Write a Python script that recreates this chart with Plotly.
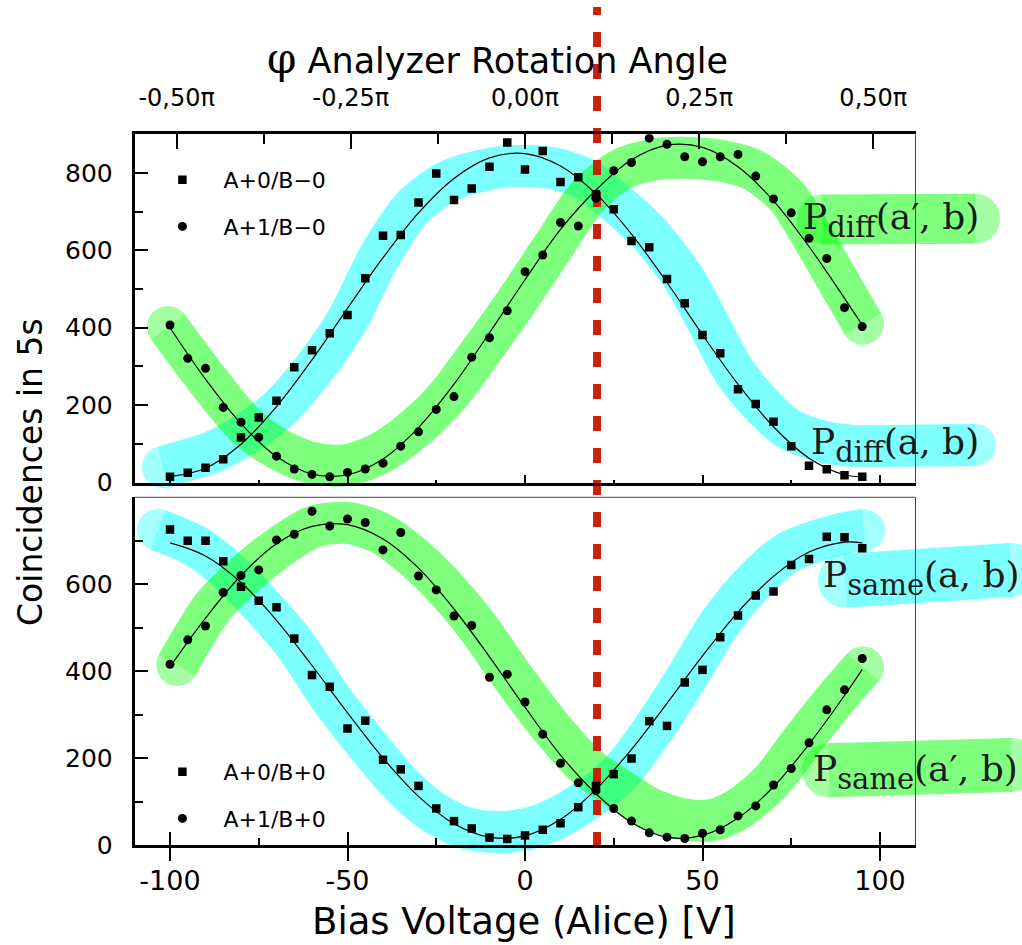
import plotly.graph_objects as go

# ---------------- data ----------------
volt = list(range(-100, 100, 5))  # bias voltage of Alice [V]

top_sq = [15, 25, 38, 60, 116, 168, 211, 298, 342, 386, 433, 528, 638, 640, 724, 799, 730, 760, 816, 879,
          809, 857, 777, 789, 745, 706, 624, 608, 526, 463, 381, 334, 241, 203, 157, 94, 43, 34, 19, 15]
top_ci = [407, 321, 295, 194, 156, 117, 68, 35, 21, 15, 26, 35, 50, 94, 131, 189, 222, 324, 374, 444,
          545, 588, 672, 663, 735, 806, 827, 890, 874, 842, 829, 842, 848, 792, 733, 697, 631, 579, 452, 403]
bot_sq = [726, 700, 700, 653, 594, 562, 547, 475, 391, 364, 268, 286, 196, 174, 136, 84, 55, 38, 17, 14,
          22, 35, 50, 87, 136, 163, 199, 285, 274, 374, 403, 478, 528, 574, 583, 644, 658, 709, 708, 683]
bot_ci = [416, 472, 504, 581, 620, 633, 702, 715, 768, 734, 750, 742, 679, 719, 619, 587, 527, 505, 386, 393,
          329, 255, 188, 143, 125, 84, 55, 28, 18, 15, 27, 35, 67, 90, 138, 176, 235, 311, 357, 429]

fit_v = [-100, -90, -80, -70, -60, -50, -40, -30, -20, -10, 0, 10, 20, 30, 40, 50, 60, 70, 80, 90, 95]
fit_top_sq = [15, 37, 99, 196, 317, 450, 581, 697, 786, 839, 850, 818, 746, 642, 517, 382, 254, 144, 63, 20, 15]
fit_top_ci = [400, 267, 152, 67, 22, 20, 61, 142, 254, 387, 524, 654, 756, 834, 872, 866, 816, 728, 610, 476, 407]
fit_bot_sq = [695, 665, 604, 517, 413, 304, 200, 112, 49, 18, 21, 59, 128, 220, 326, 435, 536, 618, 674, 697, 695]
fit_bot_ci = [410, 522, 620, 693, 733, 737, 704, 637, 543, 433, 317, 207, 118, 52, 18, 22, 62, 134, 232, 344, 404]

phi_ticks = [-0.5, -0.25, 0.0, 0.25, 0.5]
phi_labels = ["-0,50π", "-0,25π", "0,00π", "0,25π", "0,50π"]
v_ticks = [-100, -50, 0, 50, 100]
v_labels = ["-100", "-50", "0", "50", "100"]

# hand-drawn highlight strokes (panel units)
hl_top_cyan_x = [-102, -88, -78.3, -69, -59.7, -50, -40.8, -31.5, -22, -12.7, -3.4, 7.9, 17.5, 26, 34.3, 44.6,
                 51.2, 58.7, 66.2, 74, 83, 92, 105.6, 126.8]
hl_top_cyan_y = [40, 79, 128, 193, 291, 420, 588, 712, 777, 805, 818, 812, 782, 720, 650, 530,
                 420, 291, 205, 140, 108, 95, 95, 97]
hl_top_green_x = [-100.6, -87.9, -78.3, -69, -59.7, -50.1, -40.8, -31.5, -22, -12.7, -3.4, 7.9, 17.5, 26.8, 36,
                  45.6, 54.9, 64.2, 73.8, 80, 87, 95.2]
hl_top_green_y = [402, 247, 143, 84, 50, 45, 76, 136, 221, 335, 454, 609, 738, 808, 834,
                  839, 832, 808, 739, 650, 540, 410]
hl_top_green_lab_x = [83.6, 126.8]
hl_top_green_lab_y = [680, 682]

hl_bot_cyan_x = [-103.4, -92.4, -83.1, -73.8, -64.2, -54.9, -45.6, -36.1, -26.8, -17.5, -7.9, 0, 7.9, 17.5, 26.8,
                 36, 45.6, 54.9, 64.2, 73.8, 83.1, 91.5, 95.5]
hl_bot_cyan_y = [725, 686, 626, 548, 455, 340, 242, 150, 81, 41, 30, 36, 58, 104, 166,
                 265, 386, 511, 603, 672, 702, 720, 724]
hl_bot_cyan_lab_x = [90.1, 137]
hl_bot_cyan_lab_y = [608, 633]
hl_bot_green_x = [-98, -87.9, -78.3, -69, -59.7, -50.1, -40.8, -31.5, -22, -12.7, -3.4, 7.9, 17.5, 26.8, 36,
                  45.6, 53, 59.7, 69, 78.3, 87.9, 95.2]
hl_bot_green_y = [414, 548, 626, 686, 732, 741, 718, 663, 587, 495, 386, 265, 179, 127, 81,
                  58, 58, 81, 143, 242, 340, 409]
hl_bot_green_lab_x = [85.6, 137]
hl_bot_green_lab_y = [172, 184]

red_v = 20.3

# ---------------- geometry ----------------
W, H = 1022, 945
XL, XR = 134.5, 915.5          # plot frame left/right (px) for -110..110 V
YT0, YT1 = 482.5, 134.3        # top panel: value 0 / 900
YB0, YB1 = 845.0, 497.3        # bottom panel: value 0 / 800
ppv = (XR - XL) / 220.0
ppt = (YT0 - YT1) / 900.0
ppb = (YB0 - YB1) / 800.0
cx_range = [-110 - XL / ppv, 110 + (W - XR) / ppv]
cyt_range = [-(H - YT0) / ppt, 900 + YT1 / ppt]
cyb_range = [-(H - YB0) / ppb, 800 + YB1 / ppb]
xdom = [XL / W, XR / W]
ytdom = [(H - YT0) / H, (H - YT1) / H]
ybdom = [(H - YB0) / H, (H - YB1) / H]
phi_px0, phi_ppu = 525.0, 696.6
phi_range = [(XL - phi_px0) / phi_ppu, (XR - phi_px0) / phi_ppu]

CYAN = "rgb(0,255,255)"
GREEN = "rgb(0,255,0)"
SANS = "DejaVu Sans"
SERIF = "DejaVu Serif"

fig = go.Figure()


def stroke(x, y, color, width, yaxis):
    sizes = [width] + [0] * (len(x) - 2) + [width]
    fig.add_trace(go.Scatter(
        x=x, y=y, xaxis="x", yaxis=yaxis, mode="lines+markers",
        line=dict(color=color, width=width, shape="spline", smoothing=0.8),
        marker=dict(size=sizes, color=color, line=dict(width=0)),
        opacity=0.5, showlegend=False, hoverinfo="skip"))


stroke(hl_top_cyan_x, hl_top_cyan_y, CYAN, 42, "y")
stroke(hl_top_green_x, hl_top_green_y, GREEN, 42, "y")
stroke(hl_top_green_lab_x, hl_top_green_lab_y, GREEN, 50, "y")
stroke(hl_bot_cyan_x, hl_bot_cyan_y, CYAN, 42, "y2")
stroke(hl_bot_cyan_lab_x, hl_bot_cyan_lab_y, CYAN, 54, "y2")
stroke(hl_bot_green_x, hl_bot_green_y, GREEN, 42, "y2")
stroke(hl_bot_green_lab_x, hl_bot_green_lab_y, GREEN, 54, "y2")

# red dashed reference line (drawn on the full-page canvas axes)
fig.add_trace(go.Scatter(
    x=[red_v, red_v], y=[-(847 - YB0) / ppb, (YB0 - 7) / ppb], xaxis="x", yaxis="y2",
    mode="lines", line=dict(color="rgb(200,34,10)", width=8, dash="15px,17px"),
    showlegend=False, hoverinfo="skip"))

# fits
for fx, fy, ya, xa in [(fit_v, fit_top_sq, "y3", "x2"), (fit_v, fit_top_ci, "y3", "x2"),
                       (fit_v, fit_bot_sq, "y4", "x3"), (fit_v, fit_bot_ci, "y4", "x3")]:
    fig.add_trace(go.Scatter(x=fx, y=fy, xaxis=xa, yaxis=ya, mode="lines",
                             line=dict(color="black", width=1.2, shape="spline"),
                             showlegend=False, hoverinfo="skip"))

# empty traces so that the secondary tick axes (phi axis, inner tick marks) are drawn
fig.add_trace(go.Scatter(x=phi_ticks, y=[None] * len(phi_ticks), xaxis="x4", yaxis="y3", mode="lines",
                         showlegend=False, hoverinfo="skip"))
fig.add_trace(go.Scatter(x=v_ticks, y=[None] * len(v_ticks), xaxis="x5", yaxis="y4", mode="lines",
                         showlegend=False, hoverinfo="skip"))

# data points
fig.add_trace(go.Scatter(x=volt, y=top_sq, xaxis="x2", yaxis="y3", mode="markers", name="A+0/B−0",
                         marker=dict(symbol="square", size=8.5, color="black"), legend="legend",
                         legendgroup="a"))
fig.add_trace(go.Scatter(x=volt, y=top_ci, xaxis="x2", yaxis="y3", mode="markers", name="A+1/B−0",
                         marker=dict(symbol="circle", size=9, color="black"), legend="legend",
                         legendgroup="b"))
fig.add_trace(go.Scatter(x=volt, y=bot_sq, xaxis="x3", yaxis="y4", mode="markers", name="A+0/B+0",
                         marker=dict(symbol="square", size=8.5, color="black"), legend="legend2",
                         legendgroup="c"))
fig.add_trace(go.Scatter(x=volt, y=bot_ci, xaxis="x3", yaxis="y4", mode="markers", name="A+1/B+0",
                         marker=dict(symbol="circle", size=9, color="black"), legend="legend2",
                         legendgroup="d"))

tickfont = dict(family=SANS, size=25, color="black")
common = dict(showgrid=False, zeroline=False, showline=True, linecolor="black", linewidth=2.5,
              tickcolor="black", tickwidth=2)

legend_common = dict(xanchor="left", yanchor="top", bgcolor="rgba(0,0,0,0)",
                     font=dict(family=SANS, size=22, color="black"), tracegroupgap=15,
                     traceorder="grouped", itemwidth=72)

fig.update_layout(
    width=W, height=H, margin=dict(l=0, r=0, t=0, b=0, pad=0, autoexpand=False),
    paper_bgcolor="white", plot_bgcolor="rgba(0,0,0,0)",
    xaxis=dict(domain=[0, 1], range=cx_range, visible=False, anchor="y"),
    yaxis=dict(domain=[0, 1], range=cyt_range, visible=False, anchor="x"),
    yaxis2=dict(domain=[0, 1], range=cyb_range, visible=False, anchor="x", overlaying="y"),
    xaxis2=dict(domain=xdom, range=[-110, 110], anchor="y3", side="bottom", ticks="inside", ticklen=8,
                tickvals=v_ticks, showticklabels=False,
                minor=dict(tickvals=[-75, -25, 25, 75], ticks="inside", ticklen=3, tickwidth=1.5,
                           tickcolor="black"), **common),
    yaxis3=dict(domain=ytdom, range=[0, 900], anchor="x2", ticks="inside", ticklen=14,
                tickvals=[0, 200, 400, 600, 800], tickfont=tickfont, ticklabelstandoff=14,
                minor=dict(tickvals=[100, 300, 500, 700], ticks="inside", ticklen=9, tickwidth=2,
                           tickcolor="black"), **common),
    xaxis4=dict(range=phi_range, overlaying="x2", anchor="y3", side="top", ticks="inside", ticklen=15,
                tickvals=phi_ticks, ticktext=phi_labels, tickfont=dict(family=SANS, size=24, color="black"),
                ticklabelstandoff=16,
                minor=dict(tickvals=[-0.375, -0.125, 0.125, 0.375], ticks="inside", ticklen=10, tickwidth=2,
                           tickcolor="black"), **common),
    xaxis3=dict(domain=xdom, range=[-110, 110], anchor="y4", side="bottom", ticks="outside", ticklen=13,
                tickvals=v_ticks, ticktext=v_labels, tickfont=dict(family=SANS, size=27, color="black"),
                ticklabelstandoff=-3,
                minor=dict(tickvals=[-75, -25, 25, 75], ticks="inside", ticklen=7, tickwidth=2,
                           tickcolor="black"), **common),
    xaxis5=dict(range=[-110, 110], overlaying="x3", anchor="y4", side="bottom", ticks="inside", ticklen=13,
                tickvals=v_ticks, showticklabels=False, showgrid=False, zeroline=False, showline=False,
                tickcolor="black", tickwidth=2),
    yaxis4=dict(domain=ybdom, range=[0, 800], anchor="x3", ticks="inside", ticklen=14,
                tickvals=[0, 200, 400, 600], tickfont=tickfont, ticklabelstandoff=14,
                minor=dict(tickvals=[100, 300, 500, 700], ticks="inside", ticklen=9, tickwidth=2,
                           tickcolor="black"), **common),
    legend=dict(x=141.4 / W, y=(H - 159) / H, **legend_common),
    legend2=dict(x=141.4 / W, y=(H - 751) / H, **legend_common),
    showlegend=True,
)

# thin frame lines (right borders, top of lower panel)
thin = dict(color="#444", width=1)
fig.add_shape(type="line", xref="paper", yref="paper", x0=XR / W, x1=XR / W, y0=ytdom[0], y1=ytdom[1], line=thin)
fig.add_shape(type="line", xref="paper", yref="paper", x0=XR / W, x1=XR / W, y0=ybdom[0], y1=ybdom[1], line=thin)
fig.add_shape(type="line", xref="paper", yref="paper", x0=xdom[0], x1=xdom[1], y0=ybdom[1], y1=ybdom[1], line=thin)

# titles
fig.add_annotation(xref="paper", yref="paper", x=524 / W, y=0, showarrow=False,
                   text="Bias Voltage (Alice) [V]", font=dict(family=SANS, size=37, color="black"),
                   xanchor="center", yanchor="bottom")
fig.add_annotation(xref="paper", yref="paper", x=497 / W, y=(H - 58) / H, showarrow=False,
                   text="<span style='font-family:DejaVu Serif;font-size:42px'>φ</span> Analyzer Rotation Angle",
                   font=dict(family=SANS, size=35, color="black"), xanchor="center", yanchor="middle")
fig.add_annotation(xref="paper", yref="paper", x=30 / W, y=(H - 472) / H, showarrow=False,
                   text="Coincidences in 5s", textangle=-90, font=dict(family=SANS, size=33, color="black"),
                   xanchor="center", yanchor="middle")

# curve labels
lab_font = dict(family=SERIF, size=36, color="#1a1a1a")
for txt, px, py in [("P<sub><span style='font-size:29px'>diff</span></sub>(a′, b)", 801, 220),
                    ("P<sub><span style='font-size:29px'>diff</span></sub>(a, b)", 809, 445),
                    ("P<sub><span style='font-size:29px'>same</span></sub>(a, b)", 821, 578),
                    ("P<sub><span style='font-size:29px'>same</span></sub>(a′, b)", 811, 772)]:
    fig.add_annotation(xref="paper", yref="paper", x=px / W, y=(H - py) / H, showarrow=False, text=txt,
                       font=lab_font, xanchor="left", yanchor="middle")

fig.write_html("out.html", config={"displayModeBar": False},
               post_script="document.body.style.margin='0px';")
